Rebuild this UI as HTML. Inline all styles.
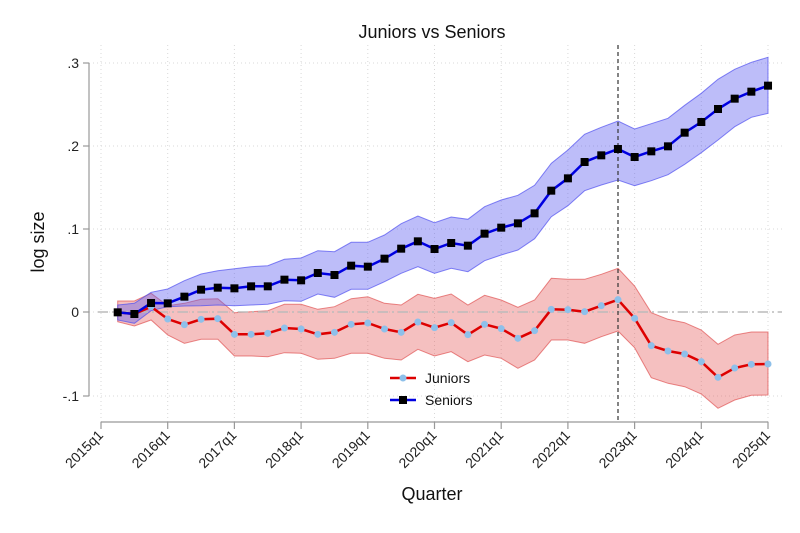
<!DOCTYPE html>
<html><head><meta charset="utf-8"><style>
html,body{margin:0;padding:0;background:#fff;}
svg{display:block;font-family:"Liberation Sans",Arial,sans-serif;}
</style></head><body>
<svg id="s" width="800" height="533" xmlns="http://www.w3.org/2000/svg">
<rect width="800" height="533" fill="#fff"/>
<g id="grid" stroke="#d8d8d8" stroke-width="1" stroke-dasharray="1,3"></g>
<g id="bands"></g>
<line x1="98" y1="312" x2="782" y2="312" stroke="#bbb" stroke-width="1.5" stroke-dasharray="10,4,2,4"/>
<line x1="618" y1="45" x2="618" y2="421" stroke="#333" stroke-width="1.2" stroke-dasharray="4,3"/>
<g id="lines"></g>
<line x1="89" y1="63" x2="89" y2="396" stroke="#999" stroke-width="1.2"/>
<line x1="101" y1="422" x2="768" y2="422" stroke="#999" stroke-width="1.2"/>
<g id="axes" font-size="14" fill="#222"></g>
<text x="432" y="38" text-anchor="middle" font-size="18" fill="#111">Juniors vs Seniors</text>
<text x="432" y="500" text-anchor="middle" font-size="18" fill="#111">Quarter</text>
<text transform="translate(44,242) rotate(-90)" text-anchor="middle" font-size="18" fill="#111">log size</text>
<line x1="390" y1="378" x2="416" y2="378" stroke="#d00" stroke-width="2.5"/>
<circle cx="403" cy="378" r="3.5" fill="#8ec0ea"/>
<text x="425" y="383" font-size="14" fill="#111">Juniors</text>
<line x1="390" y1="400" x2="416" y2="400" stroke="#0000e0" stroke-width="2.5"/>
<rect x="399" y="396" width="8" height="8" fill="#000"/>
<text x="425" y="405" font-size="14" fill="#111">Seniors</text>
</svg>
<script>
var NS="http://www.w3.org/2000/svg";
function el(t,a,p){var e=document.createElementNS(NS,t);for(var k in a)e.setAttribute(k,a[k]);document.getElementById(p).appendChild(e);return e;}
var z1s=[817,822,789,790,770,749,743,745,739,739,719,721,699,705,677,680,656,626,604,627];
var z2s=[609,617,581,563,550,520,452,415,366,346,327,351,334,319,278,246,207,176,155,137];
var z1su=[795,790,757,747,722,702,692,686,680,677,658,654,632,635,607,607,585,551,528,548];
var z2su=[531,538,500,480,466,436,370,330,283,262,243,267,251,235,196,160,118,88,67,52];
var z1sl=[840,850,812,800,798,797,795,797,795,793,782,784,762,772,748,748,725,700,680,700];
var z2sl=[685,695,662,645,630,596,530,497,452,435,420,437,422,404,373,338,300,260,232,220];
var z1j=[817,822,800,837,854,838,836,883,883,880,864,867,883,877,853,849,867,877,846,863];
var z2j=[848,884,853,866,895,872,808,809,815,797,779,835,917,933,942,965,1012,984,973,972];
var z1ju=[783,783,760,797,790,778,776,818,815,812,793,793,808,800,776,770,790,795,763,775];
var z2ju=[762,795,766,780,802,780,715,718,718,703,685,738,818,838,848,870,913,885,876,876];
var z1jl=[845,858,840,885,910,898,898,948,948,950,938,940,958,955,940,940,955,960,928,948];
var z2jl=[935,965,945,955,985,960,900,900,910,890,873,923,1013,1030,1040,1062,1105,1080,1066,1065];
function cv(a,b){return a.concat(b).map(function(v){return v/3+40;});}
var S=cv(z1s,z2s),SU=cv(z1su,z2su),SL=cv(z1sl,z2sl),J=cv(z1j,z2j),JU=cv(z1ju,z2ju),JL=cv(z1jl,z2jl);
function X(i){return 117.7+i*16.675;}
// grid
var yt=[[63,".3"],[146,".2"],[229,".1"],[312,"0"],[396,"-.1"]];
yt.forEach(function(t){el("line",{x1:89,x2:782,y1:t[0],y2:t[0]},"grid");
 el("line",{x1:83,x2:89,y1:t[0],y2:t[0],stroke:"#999","stroke-width":1.2},"axes");
 var tx=el("text",{x:79,y:t[0]+5,"text-anchor":"end"},"axes");tx.textContent=t[1];});
for(var k=0;k<=10;k++){var x=101+k*66.7;el("line",{x1:x,x2:x,y1:45,y2:422},"grid");
 el("line",{x1:x,x2:x,y1:422,y2:429,stroke:"#999","stroke-width":1.2},"axes");
 var tx=el("text",{transform:"translate("+(x+3)+",436) rotate(-45)","text-anchor":"end",x:0,y:0},"axes");tx.textContent=(2015+k)+"q1";}
function band(U,L,fill,stroke){var d="M";for(var i=0;i<U.length;i++)d+=X(i).toFixed(1)+","+U[i].toFixed(1)+" L";
 for(var i=L.length-1;i>=0;i--)d+=X(i).toFixed(1)+","+L[i].toFixed(1)+(i?" L":" Z");
 el("path",{d:d,fill:fill,stroke:stroke,"stroke-width":1},"bands");}
band(JU,JL,"rgba(230,90,90,0.38)","rgba(220,60,60,0.6)");
band(SU,SL,"rgba(90,90,240,0.4)","rgba(80,80,240,0.7)");
function pl(A){return A.map(function(v,i){return X(i).toFixed(1)+","+v.toFixed(1);}).join(" ");}
el("polyline",{points:pl(J),fill:"none",stroke:"#d00","stroke-width":2.5},"lines");
J.forEach(function(v,i){el("circle",{cx:X(i),cy:v,r:3.5,fill:"#8ec0ea"},"lines");});
el("polyline",{points:pl(S),fill:"none",stroke:"#0000e0","stroke-width":2.5},"lines");
S.forEach(function(v,i){el("rect",{x:X(i)-4,y:v-4,width:8,height:8,fill:"#000"},"lines");});
</script>
</body></html>
